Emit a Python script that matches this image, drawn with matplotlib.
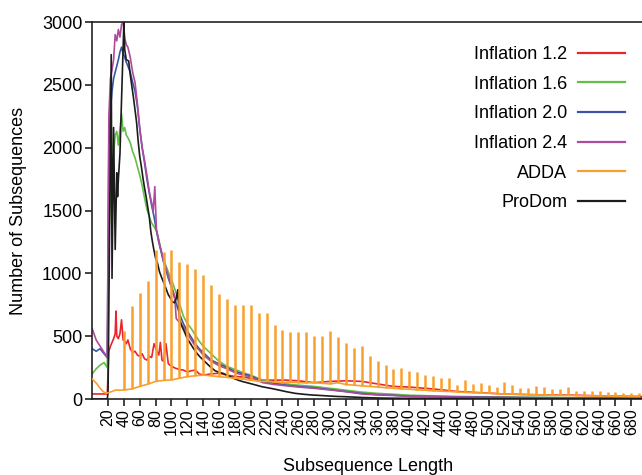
import numpy as np
import matplotlib
matplotlib.use("Agg")
import matplotlib.pyplot as plt

plt.rcParams['font.family'] = ['Liberation Sans', 'DejaVu Sans']

# Inflation 1.2 (red)
x_r = [0, 5, 10, 15, 19, 21, 23, 25, 27, 29, 30, 31, 33, 35, 37, 39, 41, 43, 45, 48, 51, 54, 57, 60,
       63, 66, 69, 72, 75, 78, 81, 84, 86, 88, 90, 93, 96, 100, 105, 110, 115, 120, 125, 130, 135,
       140, 150, 160, 170, 180, 190, 200, 215, 230, 245, 260, 280, 300, 320, 340, 360, 380, 400,
       430, 460, 490, 520, 550, 580, 610, 640, 670, 695]
y_r = [40, 40, 40, 40, 40, 380, 420, 450, 480, 520, 700, 500, 480, 520, 630, 470, 460, 440, 470, 400,
       370, 380, 350, 340, 360, 320, 310, 340, 330, 440, 390, 350, 450, 310, 300, 440, 280, 260, 245,
       235, 230, 215, 225, 230, 200, 190, 200, 205, 190, 180, 175, 165, 150, 150, 150, 145, 130, 140,
       145, 140, 120, 100, 95, 80, 60, 50, 40, 35, 32, 30, 25, 22, 20]

# Inflation 1.6 (green)
x_g = [0, 5, 10, 15, 19, 21, 23, 25, 27, 29, 31, 33, 35, 37, 39, 41, 43, 45, 48, 51, 54, 57, 60, 63,
       66, 69, 72, 75, 78, 81, 84, 87, 90, 93, 96, 100, 105, 110, 115, 120, 125, 130, 135, 140, 150,
       160, 170, 180, 190, 200, 215, 230, 245, 260, 280, 300, 320, 340, 360, 380, 400, 430, 460, 490,
       520, 550, 580, 610, 640, 670, 695]
y_g = [200, 240, 270, 290, 250, 1300, 1600, 1850, 1950, 2100, 2130, 2020, 2150, 2270, 2130, 2160,
       2100, 2080, 2040, 1970, 1920, 1850, 1780, 1700, 1600, 1510, 1450, 1400, 1370, 1340, 1270, 1180,
       1110, 1060, 1010, 950, 860, 760, 660, 600, 560, 510, 460, 420, 360, 300, 260, 235, 210, 190,
       150, 135, 120, 110, 100, 85, 70, 55, 45, 38, 30, 25, 20, 18, 15, 13, 12, 10, 9, 8, 7]

# Inflation 2.0 (blue)
x_b = [0, 5, 10, 15, 19, 21, 23, 25, 27, 29, 31, 33, 35, 37, 39, 41, 43, 45, 48, 51, 54, 57, 60, 63,
       66, 69, 72, 75, 78, 81, 84, 87, 90, 93, 96, 100, 105, 110, 115, 120, 125, 130, 135, 140, 150,
       160, 170, 180, 190, 200, 215, 230, 245, 260, 280, 300, 320, 340, 360, 380, 400, 430, 460, 490,
       520, 550, 580, 610, 640, 670, 695]
y_b = [400, 380, 400, 360, 330, 2000, 2300, 2450, 2550, 2600, 2650, 2700, 2760, 2800, 2750, 2720,
       2680, 2650, 2600, 2520, 2450, 2330, 2150, 2000, 1880, 1750, 1640, 1540, 1450, 1340, 1250, 1170,
       1090, 1030, 960, 890, 780, 680, 600, 540, 490, 440, 400, 370, 310, 280, 250, 220, 200, 185,
       140, 125, 110, 100, 90, 75, 60, 45, 35, 30, 22, 20, 17, 15, 13, 11, 10, 9, 8, 7, 6]

# Inflation 2.4 (magenta)
x_m = [0, 5, 10, 15, 19, 21, 23, 25, 27, 29, 31, 33, 35, 37, 39, 41, 43, 45, 48, 51, 54, 57, 60, 63,
       66, 69, 72, 75, 77, 79, 81, 84, 87, 90, 93, 96, 100, 104, 106, 110, 115, 120, 125, 130, 135,
       140, 150, 160, 170, 180, 190, 200, 215, 230, 245, 260, 280, 300, 320, 340, 360, 380, 400, 430,
       460, 490, 520, 550, 580, 610, 640, 670, 695]
y_m = [560, 470, 420, 370, 330, 2250, 2550, 2620, 2700, 2900, 2850, 2940, 2880, 2980, 3000, 2870,
       2820, 2800, 2720, 2600, 2520, 2350, 2150, 2000, 1900, 1780, 1650, 1560, 1500, 1690, 1350, 1250,
       1180, 1100, 1040, 980, 900, 820, 640, 610, 575, 520, 470, 420, 390, 350, 300, 265, 240, 210,
       190, 177, 130, 115, 105, 95, 85, 72, 58, 40, 32, 28, 20, 18, 15, 13, 12, 10, 9, 8, 7, 6, 5]

# ProDom (black)
x_k = [0, 19, 20, 24, 25, 27, 29, 31, 32, 33, 35, 37, 40, 41, 43, 46, 48, 50, 52, 54, 56, 58, 60, 62,
       64, 66, 68, 70, 72, 74, 76, 78, 80, 82, 85, 88, 90, 93, 96, 98, 101, 104, 106, 108, 110, 113,
       116, 120, 124, 128, 132, 136, 140, 145, 150, 155, 160, 165, 170, 175, 180, 185, 190, 195, 200,
       207, 214, 225, 235, 245, 256, 266, 277, 288, 298, 310, 320, 340, 360, 380, 400, 450, 500, 550,
       600, 650, 695]
y_k = [0, 0, 50, 2740, 960, 2160, 1190, 1800, 1610, 1750, 1950, 2380, 3000, 2780, 2700, 2690, 2580,
       2490, 2400, 2300, 2200, 2050, 1930, 1850, 1760, 1680, 1610, 1530, 1450, 1330, 1250, 1180, 1120,
       1090, 1010, 960, 930, 880, 830, 810, 775, 765, 800, 870, 640, 580, 540, 480, 440, 400, 364, 335,
       310, 280, 250, 225, 212, 204, 190, 175, 160, 148, 138, 130, 122, 110, 98, 85, 72, 58, 45, 38,
       32, 28, 24, 20, 18, 12, 8, 6, 5, 4, 3, 3, 2, 2, 2]

# ADDA (orange): baseline plus one-length spikes every 10
adda_x = [0, 3, 6, 10, 14, 18, 20, 25, 30, 35] + list(range(40, 700, 10))
adda_base = [160, 140, 120, 85, 58, 45, 50, 60, 72, 70,
             72, 80, 100, 118, 140, 148, 152, 165, 178, 185, 190, 185, 178, 172, 165, 158, 150,
             140, 140, 135, 130, 135, 130, 128, 130, 125, 120, 130, 115, 110, 105, 100, 95, 90,
             85, 80, 78, 72, 70, 65, 62, 60, 56, 52, 50, 48, 45, 42, 40, 38, 36, 35, 33, 32, 30,
             29, 28, 27, 26, 25, 24, 23, 22, 21, 20, 20]
adda_peak_x = list(range(40, 700, 10))
adda_peak = [541, 740, 841, 939, 1186, 1172, 1186, 1093, 1074, 1032, 987, 907, 836, 793, 748, 748,
             748, 687, 687, 589, 550, 536, 536, 536, 505, 500, 541, 495, 448, 406, 422, 342, 302,
             268, 236, 247, 223, 215, 188, 185, 170, 165, 111, 151, 119, 130, 111, 93, 138, 111, 85,
             85, 103, 98, 77, 77, 93, 66, 64, 64, 64, 58, 58, 50, 50, 50]

xticks = list(range(20, 700, 20))
yticks = [0, 500, 1000, 1500, 2000, 2500, 3000]

c_red = '#e8262b'
c_green = '#63c046'
c_blue = '#3b56a6'
c_mag = '#b04a9c'
c_orange = '#f9a02c'
c_black = '#1c1c1c'

fig = plt.figure(figsize=(6.42, 4.75), dpi=100)
ax = fig.add_axes([92.2 / 642, 76 / 475, 551 / 642, 377 / 475])

ax.plot(x_r, y_r, color=c_red, lw=1.2, label='Inflation 1.2')
ax.plot(x_g, y_g, color=c_green, lw=1.2, label='Inflation 1.6')
ax.plot(x_b, y_b, color=c_blue, lw=1.2, label='Inflation 2.0')
ax.plot(x_m, y_m, color=c_mag, lw=1.2, label='Inflation 2.4')
ax.plot(x_k, y_k, color=c_black, lw=1.2, label='ProDom', zorder=3)
base_at = dict(zip(adda_x, adda_base))
ax.plot(adda_x, adda_base, color=c_orange, lw=1.2, label='ADDA', zorder=4)
ax.vlines(adda_peak_x, [base_at[p] for p in adda_peak_x], adda_peak, color=c_orange, lw=1.8, zorder=4)

ax.set_xlim(0, 695)
ax.set_ylim(0, 3000)
ax.set_xticks(xticks)
ax.set_xticklabels([str(t) for t in xticks], rotation=90, fontsize=11.5)
ax.set_yticks(yticks)
ax.set_yticklabels([str(t) for t in yticks], fontsize=13)
ax.tick_params(direction='out', length=5, width=1.2, color='#222222', pad=2)
for s in ax.spines.values():
    s.set_linewidth(1.2)
    s.set_color('#222222')
ax.spines['right'].set_visible(False)

ax.set_xlabel('Subsequence Length', fontsize=13, labelpad=16)
ax.set_ylabel('Number of Subsequences', fontsize=13, labelpad=11)

h, l = ax.get_legend_handles_labels()
order = ['Inflation 1.2', 'Inflation 1.6', 'Inflation 2.0', 'Inflation 2.4', 'ADDA', 'ProDom']
hs = [h[l.index(o)] for o in order]
leg = ax.legend(hs, order, loc='upper right', bbox_to_anchor=(625 / 642, 1 - 46 / 475),
                bbox_transform=fig.transFigure, frameon=False, markerfirst=False, fontsize=13,
                handlelength=2.6, handletextpad=0.6, labelspacing=0.7, borderpad=0, borderaxespad=0)
for ln in leg.get_lines():
    ln.set_linewidth(1.6)

fig.savefig('out.png', dpi=100)
